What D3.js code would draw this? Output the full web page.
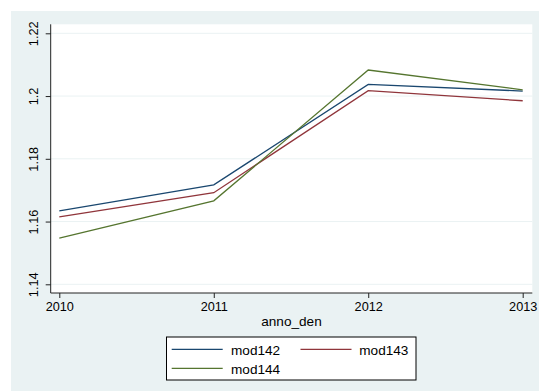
<!DOCTYPE html>
<html>
<head>
<meta charset="utf-8">
<script src="https://cdn.jsdelivr.net/npm/d3@7"></script>
<style>
  html, body { margin: 0; padding: 0; background: #ffffff; }
  svg { display: block; font-family: "Liberation Sans", Arial, Helvetica, sans-serif; }
</style>
</head>
<body>
<svg id="chart" width="539" height="391"></svg>
<script>
// Years on the x axis
const years = [2010, 2011, 2012, 2013];
// Series values per year
const mod142 = [1.1634, 1.1717, 1.2037, 1.2016];
const mod143 = [1.1615, 1.1692, 1.2017, 1.1985];
const mod144 = [1.1547, 1.1666, 1.2083, 1.2020];
// Axis ticks
const yTicks = [1.14, 1.16, 1.18, 1.2, 1.22];
const xTicks = [2010, 2011, 2012, 2013];
const seriesNames = ["mod142", "mod143", "mod144"];
const seriesColors = ["#1a476f", "#90353b", "#55752f"];
const xTitle = "anno_den";

const svg = d3.select("#chart");

// Graph region background
svg.append("rect")
  .attr("x", 11).attr("y", 11)
  .attr("width", 528).attr("height", 380)
  .attr("fill", "#eaf2f3");

// Plot region bounds
const plot = { left: 50.7, right: 532.3, top: 24.3, bottom: 293 };

svg.append("rect")
  .attr("x", plot.left).attr("y", plot.top)
  .attr("width", plot.right - plot.left).attr("height", plot.bottom - plot.top)
  .attr("fill", "#ffffff");

const x = d3.scaleLinear().domain([2010, 2013]).range([59.3, 522.7]);
const y = d3.scaleLinear().domain([1.14, 1.22]).range([284.3, 33.3]);

// Horizontal grid lines
svg.append("g").selectAll("line")
  .data(yTicks)
  .join("line")
  .attr("x1", plot.left).attr("x2", plot.right)
  .attr("y1", d => y(d)).attr("y2", d => y(d))
  .attr("stroke", "#eaf2f3")
  .attr("stroke-width", 1);

// Series lines
const series = [mod142, mod143, mod144];
const line = d3.line()
  .x((d, i) => x(years[i]))
  .y(d => y(d));

svg.append("g").selectAll("path")
  .data(series)
  .join("path")
  .attr("d", d => line(d))
  .attr("fill", "none")
  .attr("stroke", (d, i) => seriesColors[i])
  .attr("stroke-width", 1.3)
  .attr("stroke-linejoin", "miter");

// Y axis
const yAxis = svg.append("g")
  .attr("transform", `translate(${plot.left},0)`)
  .call(d3.axisLeft(y).tickValues(yTicks).tickSize(5).tickPadding(12)
    .tickFormat(d3.format("")));
yAxis.select(".domain").remove();
yAxis.selectAll(".tick line").attr("stroke", "#222");
yAxis.selectAll(".tick text")
  .attr("x", null).attr("dy", null)
  .attr("text-anchor", "middle")
  .attr("transform", "translate(-12.3,0) rotate(-90)")
  .attr("y", 0)
  .attr("font-size", 12.7)
  .attr("font-family", "Liberation Sans, Arial, sans-serif")
  .attr("fill", "#000");

// X axis
const xAxis = svg.append("g")
  .attr("transform", `translate(0,${plot.bottom})`)
  .call(d3.axisBottom(x).tickValues(xTicks).tickSize(5).tickPadding(6)
    .tickFormat(d3.format("d")));
xAxis.select(".domain").remove();
xAxis.selectAll(".tick line").attr("stroke", "#222");
xAxis.selectAll(".tick text")
  .attr("dy", null)
  .attr("y", 18)
  .attr("font-size", 12.7)
  .attr("font-family", "Liberation Sans, Arial, sans-serif")
  .attr("fill", "#000");

// Axis lines
svg.append("line")
  .attr("x1", plot.left).attr("x2", plot.left)
  .attr("y1", plot.top).attr("y2", plot.bottom)
  .attr("stroke", "#222").attr("stroke-width", 1);
svg.append("line")
  .attr("x1", plot.left).attr("x2", plot.right)
  .attr("y1", plot.bottom).attr("y2", plot.bottom)
  .attr("stroke", "#222").attr("stroke-width", 1);

// X axis title
svg.append("text")
  .attr("x", 291.5).attr("y", 326)
  .attr("text-anchor", "middle")
  .attr("font-size", 13.6)
  .attr("fill", "#000")
  .text(xTitle);

// Legend
const legend = svg.append("g");
legend.append("rect")
  .attr("x", 166.5).attr("y", 337)
  .attr("width", 249.5).attr("height", 43)
  .attr("fill", "#ffffff")
  .attr("stroke", "#000")
  .attr("stroke-width", 1);

const legendPos = [
  { lx: 171.7, tx: 231, ly: 349.3, ty: 354.5 },
  { lx: 300.5, tx: 359.3, ly: 349.3, ty: 354.5 },
  { lx: 171.7, tx: 231, ly: 368.3, ty: 373.5 }
];
seriesNames.forEach((name, i) => {
  const p = legendPos[i];
  legend.append("line")
    .attr("x1", p.lx).attr("x2", p.lx + 51)
    .attr("y1", p.ly).attr("y2", p.ly)
    .attr("stroke", seriesColors[i])
    .attr("stroke-width", 1.3);
  legend.append("text")
    .attr("x", p.tx).attr("y", p.ty)
    .attr("font-size", 13.6)
    .attr("fill", "#000")
    .text(name);
});
</script>
</body>
</html>
